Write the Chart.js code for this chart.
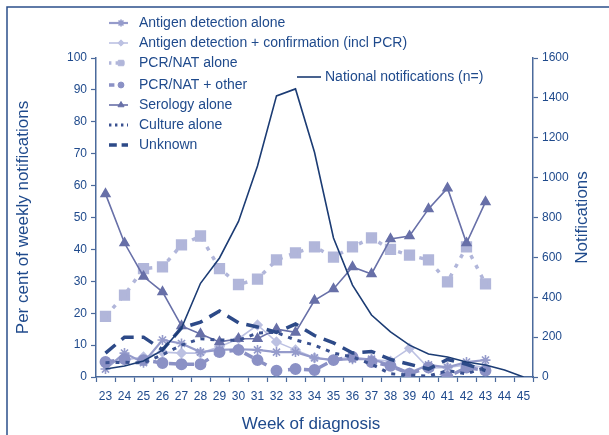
<!DOCTYPE html>
<html>
<head>
<meta charset="utf-8">
<script src="https://cdn.jsdelivr.net/npm/chart.js@4/dist/chart.umd.min.js"></script>
<style>
  html, body { margin: 0; padding: 0; background: #fff; }
  #wrap { position: relative; width: 609px; height: 435px; }
</style>
</head>
<body>
<div id="wrap"><canvas id="c" width="609" height="435"></canvas></div>
<script>
/* week categories and tick labels */
const WEEKS = ['23','24','25','26','27','28','29','30','31','32','33','34','35','36','37','38','39','40','41','42','43','44','45'];
const PCT_TICKS = [0,10,20,30,40,50,60,70,80,90,100];
const NOTIF_TICKS = [0,200,400,600,800,1000,1200,1400,1600];

/* per cent of weekly notifications, weeks 23..45 */
const ANTIGEN_ALONE = [2.5,7.5,4.5,11.6,10.5,7.8,8.5,8.7,8.5,7.8,7.8,6,5.3,5.6,5.6,3.8,1.3,3.8,3,4.7,5.3,null,null];
const ANTIGEN_CONF  = [4.7,5.3,6.3,7.8,7.5,7.5,9.5,12,16.3,11,8.5,6,5.3,6.3,5.5,5,9,2.8,3,3.8,3,null,null];
const PCR_ALONE     = [19,25.7,34,34.5,41.4,44.2,34,29,30.7,36.7,38.9,40.8,37.6,40.8,43.6,40,38.2,36.7,29.8,40.8,29.2,null,null];
const PCR_OTHER     = [4.7,5.6,5.3,4.4,4,4,7.8,8.5,5.3,2,2.5,2.2,5.3,6.3,4.7,3.5,1,3,0,3,2,null,null];
const SEROLOGY      = [57.4,42,31.5,26.7,16,13.5,11,12,12,15,14,24,27.6,34.5,32.3,43.3,44.2,52.7,59.2,42,54.9,null,null];
const CULTURE       = [4.5,4.6,4.4,7,10,12,11.6,11.5,13.8,14,11.6,10,7.5,6.3,4,1,0.6,0.3,2,1,3,null,null];
const UNKNOWN       = [7.5,12.5,12.5,8.5,15.4,17.2,20.7,17,15.7,14,16.6,13,10.7,7.5,8,5.5,4,2.5,5.5,4,2,null,null];
/* national notifications (right axis) */
const NATIONAL      = [40,55,80,135,245,470,597,780,1058,1410,1445,1127,697,461,311,226,160,115,100,75,60,35,0];

const TXT   = '#1f4a8c';
const AXIS  = '#4b6a9c';
const FONT  = 'Arial, "Liberation Sans", sans-serif';

const datasets = [
    { label: 'National notifications (n=)', data: NATIONAL, yAxisID: 'y1', borderColor: '#1c3c74', borderWidth: 1.6, pointRadius: 0, order: 0 },
    { label: 'Antigen detection alone', data: ANTIGEN_ALONE, borderColor: '#959bcb', borderWidth: 2.2, pointStyle: 'star', pointRadius: 5, pointBorderColor: '#959bcb', pointBorderWidth: 1.6, order: 6 },
    { label: 'Antigen detection + confirmation (incl PCR)', data: ANTIGEN_CONF, borderColor: '#bcc1e2', borderWidth: 1.6, pointStyle: 'rectRot', pointRadius: 4.5, pointBackgroundColor: '#bcc1e2', pointBorderColor: '#bcc1e2', order: 7 },
    { label: 'PCR/NAT alone', data: PCR_ALONE, borderColor: '#b1b6da', borderWidth: 3.5, borderDash: [4, 7], pointStyle: 'rect', pointRadius: 5.5, pointBackgroundColor: '#b1b6da', pointBorderColor: '#b1b6da', order: 5 },
    { label: 'PCR/NAT + other', data: PCR_OTHER, borderColor: '#8b91c5', borderWidth: 3.5, borderDash: [9, 7], pointStyle: 'circle', pointRadius: 4.2, pointBackgroundColor: '#8b91c5', pointBorderColor: '#8b91c5', order: 4 },
    { label: 'Serology alone', data: SEROLOGY, borderColor: '#6870a8', borderWidth: 1.6, pointStyle: 'triangle', pointRadius: 5, pointBackgroundColor: '#6870a8', pointBorderColor: '#6870a8', order: 3 },
    { label: 'Culture alone', data: CULTURE, borderColor: '#3a5190', borderWidth: 3, borderDash: [4, 6], pointRadius: 0, order: 2 },
    { label: 'Unknown', data: UNKNOWN, borderColor: '#2d4a88', borderWidth: 3.5, borderDash: [13, 8], pointRadius: 0, order: 1 },
];

/* legend rows: [dataset index, x of line start, y] */
const LEGEND_ROWS = [[1,109,23],[2,109,43],[3,109,63],[4,109,85],[5,109,105],[6,109,125],[7,109,145],[0,297,77]];

const decorPlugin = {
    id: 'decor',
    afterDraw(chart) {
        const { ctx, chartArea } = chart;
        ctx.save();
        // frame (cropped box)
        ctx.strokeStyle = '#2b4f8a';
        ctx.lineWidth = 1.5;
        ctx.beginPath();
        ctx.moveTo(7, 435); ctx.lineTo(7, 7); ctx.lineTo(609, 7);
        ctx.stroke();

        // axis titles
        ctx.fillStyle = TXT;
        ctx.font = `17px ${FONT}`;
        ctx.textAlign = 'center';
        ctx.textBaseline = 'middle';
        ctx.fillText('Week of diagnosis', 311, 424);
        const midY = (chartArea.top + chartArea.bottom) / 2;
        ctx.save(); ctx.translate(23, midY); ctx.rotate(-Math.PI / 2);
        ctx.fillText('Per cent of weekly notifications', 0, 0); ctx.restore();
        ctx.save(); ctx.translate(582, midY); ctx.rotate(-Math.PI / 2);
        ctx.fillText('Notifications', 0, 0); ctx.restore();

        // legend
        ctx.font = `14px ${FONT}`;
        ctx.textAlign = 'left';
        LEGEND_ROWS.forEach(([i, x, y]) => {
            const ds = chart.data.datasets[i];
            const len = i === 0 ? 24 : 19;
            ctx.save();
            ctx.strokeStyle = ds.borderColor;
            ctx.lineWidth = ds.borderWidth;
            ctx.setLineDash(ds.borderDash ? ds.borderDash.map(v => v * 0.6) : []);
            ctx.beginPath(); ctx.moveTo(x, y); ctx.lineTo(x + len, y); ctx.stroke();
            ctx.setLineDash([]);
            if (ds.pointRadius) {
                ctx.fillStyle = ds.pointBackgroundColor || ds.borderColor;
                ctx.strokeStyle = ds.pointBorderColor || ds.borderColor;
                ctx.lineWidth = ds.pointBorderWidth || 1;
                Chart.helpers.drawPoint(ctx, { pointStyle: ds.pointStyle, radius: ds.pointRadius * 0.7, rotation: 0, borderWidth: ctx.lineWidth }, x + 12, y);
            }
            ctx.restore();
            ctx.fillStyle = TXT;
            ctx.fillText(ds.label, x + len + (i === 0 ? 4 : 11), y);
        });
        ctx.restore();
    },
};

new Chart(document.getElementById('c'), {
    type: 'line',
    data: { labels: WEEKS, datasets },
    plugins: [decorPlugin],
    options: {
        responsive: false,
        animation: false,
        layout: { padding: { top: 58, right: 0, left: 0, bottom: 0 } },
        elements: { line: { tension: 0, fill: false } },
        plugins: { legend: { display: false }, tooltip: { enabled: false } },
        scales: {
            x: {
                offset: true,
                grid: { offset: true, drawOnChartArea: false, color: AXIS, tickLength: 5, tickWidth: 1.2 },
                border: { color: AXIS, width: 1.5 },
                ticks: { color: TXT, font: { size: 12, family: FONT }, padding: 7, maxRotation: 0, autoSkip: false },
                afterFit: s => { s.height = 58; },
            },
            y: {
                position: 'left', min: 0, max: 100,
                afterBuildTicks: s => { s.ticks = PCT_TICKS.map(v => ({ value: v })); },
                grid: { drawOnChartArea: false, color: AXIS, tickLength: 5, tickWidth: 1.2 },
                border: { color: AXIS, width: 1.5 },
                ticks: { color: TXT, font: { size: 12, family: FONT }, padding: 4, callback: v => String(v) },
                afterFit: s => { s.width = 96; },
            },
            y1: {
                position: 'right', min: 0, max: 1600,
                afterBuildTicks: s => { s.ticks = NOTIF_TICKS.map(v => ({ value: v })); },
                grid: { drawOnChartArea: false, color: AXIS, tickLength: 5, tickWidth: 1.2 },
                border: { color: AXIS, width: 1.5 },
                ticks: { color: TXT, font: { size: 12, family: FONT }, padding: 4, callback: v => String(v) },
                afterFit: s => { s.width = 76; },
            },
        },
    },
});
</script>
</body>
</html>
